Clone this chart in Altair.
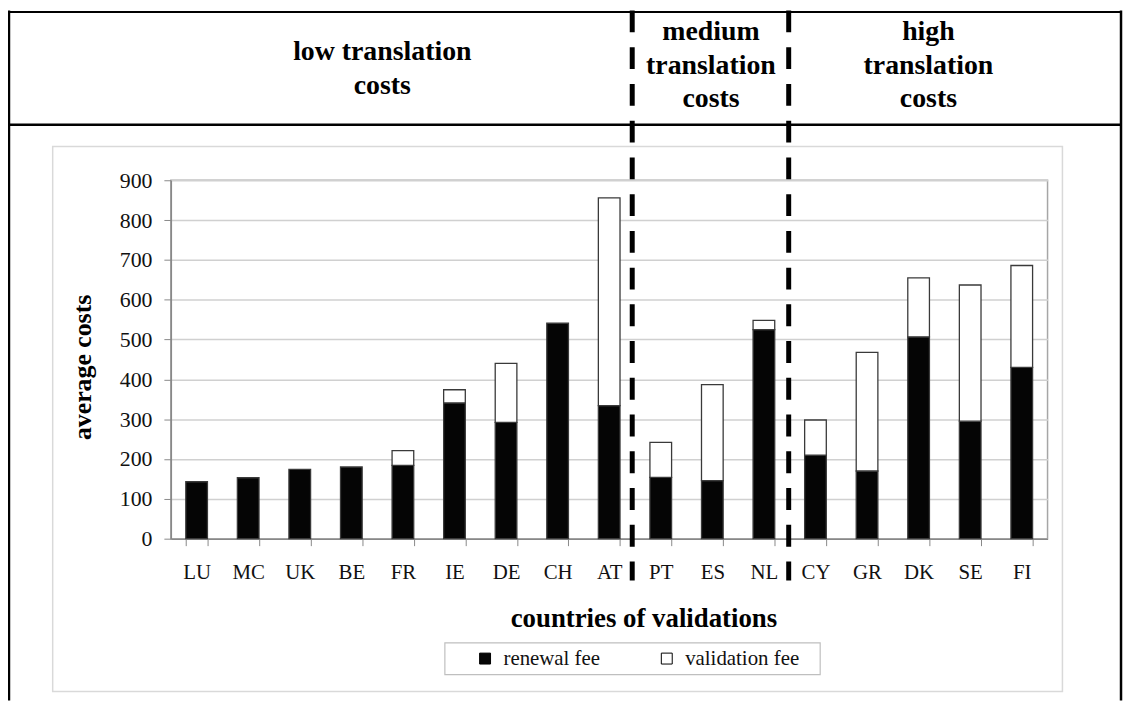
import altair as alt
import pandas as pd

countries = ["LU", "MC", "UK", "BE", "FR", "IE", "DE", "CH", "AT",
             "PT", "ES", "NL", "CY", "GR", "DK", "SE", "FI"]
renewal_fee = [143, 153, 174, 180, 184, 341, 292, 541, 334,
               154, 146, 525, 210, 170, 507, 295, 430]
validation_fee = [0, 0, 0, 0, 37, 33, 148, 0, 522,
                  88, 241, 23, 88, 298, 148, 342, 256]
fee_types = ["renewal fee", "validation fee"]
y_ticks = [0, 100, 200, 300, 400, 500, 600, 700, 800, 900]
group_low = ["low translation", "costs"]
group_medium = ["medium", "translation", "costs"]
group_high = ["high", "translation", "costs"]

rows = []
for i, c in enumerate(countries):
    rows.append({"country": c, "fee": fee_types[0], "value": renewal_fee[i], "order": 0})
    rows.append({"country": c, "fee": fee_types[1], "value": validation_fee[i], "order": 1})
df = pd.DataFrame(rows)
one = pd.DataFrame({"k": [0]})

SERIF = "Liberation Serif"

bars = alt.Chart(df).transform_filter("datum.value > 0").mark_bar(
    stroke="#3a3a3a", strokeWidth=1.3
).encode(
    x=alt.X("country:N", sort=countries,
            scale=alt.Scale(paddingInner=0.58, paddingOuter=0.29),
            axis=alt.Axis(title="countries of validations", labelAngle=0,
                          tickBand="extent", tickSize=7, tickColor="#888888",
                          domainColor="#888888", domainWidth=1.5,
                          labelPadding=16, labelFontSize=21, labelColor="#111111",
                          titleFontSize=27, titleFontWeight="bold",
                          titleX=476, titleY=88, titleAlign="center",
                          titleBaseline="alphabetic", grid=False)),
    y=alt.Y("value:Q", stack="zero",
            scale=alt.Scale(domain=[0, 900], nice=False),
            axis=alt.Axis(title="average costs", values=y_ticks,
                          tickSize=7, tickColor="#888888",
                          domainColor="#888888", domainWidth=1.5,
                          labelPadding=12, labelFontSize=22, labelColor="#111111",
                          gridColor="#d0d0d0", gridWidth=1.5,
                          titleFontSize=26, titleFontWeight="bold",
                          titleAngle=270, titleX=-89, titleY=188,
                          titleAlign="center", titleBaseline="middle")),
    color=alt.Color("fee:N", scale=alt.Scale(domain=fee_types, range=["#050505", "#ffffff"]),
                    legend=alt.Legend(title=None, orient="none", legendX=306, legendY=471,
                                      direction="horizontal", symbolType="square",
                                      symbolSize=121, symbolStrokeColor="#000000",
                                      symbolStrokeWidth=1, labelFont=SERIF,
                                      labelFontSize=21, labelOffset=8, labelColor="#111111",
                                      columnPadding=56, padding=0)),
    order=alt.Order("order:Q", sort="ascending"),
)

# outer frame and header band
frame_h = alt.Chart(one).mark_rule(color="black", strokeWidth=2).encode(
    x=alt.value(-163), x2=alt.value(957), y=alt.value(-169.5))
frame_h2 = alt.Chart(one).mark_rule(color="black", strokeWidth=2.5).encode(
    x=alt.value(-163), x2=alt.value(957), y=alt.value(-56))
frame_l = alt.Chart(one).mark_rule(color="black", strokeWidth=2.5).encode(
    x=alt.value(-163), y=alt.value(-171), y2=alt.value(524))
frame_r = alt.Chart(one).mark_rule(color="black", strokeWidth=2.5).encode(
    x=alt.value(957), y=alt.value(-171), y2=alt.value(524))

# inner chart-area box
inner_box = alt.Chart(one).mark_rect(fill="transparent", stroke="#d9d9d9", strokeWidth=1.5).encode(
    x=alt.value(-119), x2=alt.value(898), y=alt.value(-34), y2=alt.value(515))

# legend box
legend_box = alt.Chart(one).mark_rect(fill="transparent", stroke="#bfbfbf", strokeWidth=1.2).encode(
    x=alt.value(276), x2=alt.value(654), y=alt.value(466), y2=alt.value(498))

# header texts
def header(lines, xpos, ypos):
    return alt.Chart(one).mark_text(font=SERIF, fontSize=28, fontWeight="bold",
                                    align="center", baseline="alphabetic",
                                    lineHeight=34, color="black").encode(
        x=alt.value(xpos), y=alt.value(ypos), text=alt.value(lines))

t_low = header(group_low, 213, -121)
t_med = header(group_medium, 544, -141.5)
t_high = header(group_high, 763, -141.5)

# dashed separators
dash1 = alt.Chart(one).mark_rule(color="black", strokeWidth=5, strokeDash=[22, 15]).encode(
    x=alt.value(464.7), y=alt.value(-171), y2=alt.value(403))
dash2 = alt.Chart(one).mark_rule(color="black", strokeWidth=5, strokeDash=[22, 15]).encode(
    x=alt.value(622.3), y=alt.value(-171), y2=alt.value(403))

chart = alt.layer(
    inner_box, legend_box, bars, frame_h, frame_h2, frame_l, frame_r,
    t_low, t_med, t_high, dash1, dash2
).properties(
    width=883, height=361,
    padding={"left": 164, "top": 171, "right": 76, "bottom": 163},
    autosize=alt.AutoSizeParams(type="none"),
    background="white",
).configure_view(
    stroke="#a6a6a6", strokeWidth=1.5
).configure_axis(
    labelFont=SERIF, titleFont=SERIF, titleColor="black"
).configure_legend(
    labelFont=SERIF, titleFont=SERIF
)

chart.save("out.html", embed_options={"renderer": "svg", "actions": False})
